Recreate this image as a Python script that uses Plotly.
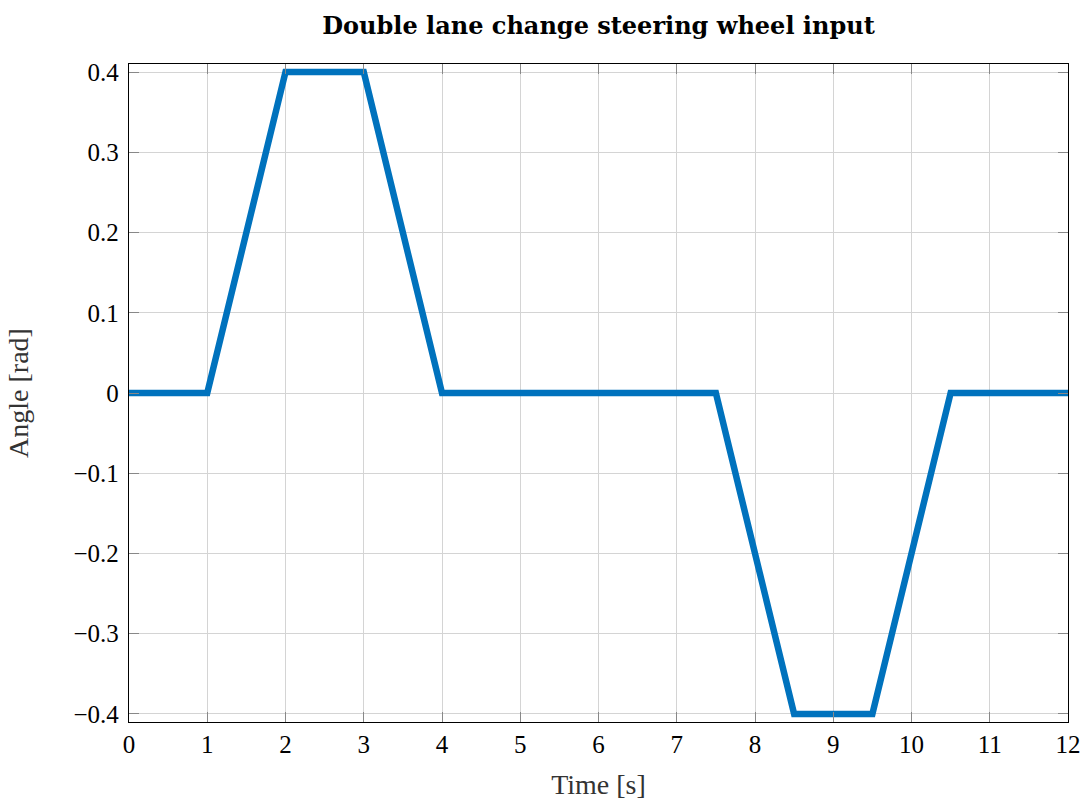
import plotly.graph_objects as go

time_s = [0, 1, 2, 3, 4, 7.5, 8.5, 9.5, 10.5, 12]
angle_rad = [0, 0, 0.4, 0.4, 0, 0, -0.4, -0.4, 0, 0]
x_ticks = list(range(0, 13))
y_ticks = [-0.4, -0.3, -0.2, -0.1, 0, 0.1, 0.2, 0.3, 0.4]
y_labels = ["\u22120.4", "\u22120.3", "\u22120.2", "\u22120.1", "0", "0.1", "0.2", "0.3", "0.4"]

FONT = "Liberation Serif"

fig = go.Figure()
fig.add_trace(go.Scatter(x=time_s, y=angle_rad, mode="lines",
                         line=dict(color="#0072BD", width=6.5), showlegend=False))

axis_common = dict(showline=True, linecolor="black", linewidth=1.3, mirror="ticks",
                   ticks="inside", ticklen=10, tickcolor="#888888", tickwidth=1.2,
                   showgrid=True, gridcolor="#d4d4d4", gridwidth=1, zeroline=False,
                   automargin=False,
                   tickfont=dict(family=FONT, size=25, color="black"))

fig.update_layout(
    width=1087, height=800,
    margin=dict(l=129, r=19, t=64, b=78),
    paper_bgcolor="white", plot_bgcolor="white",
    title=dict(text="<b>Double lane change steering wheel input</b>",
               x=(129 + 1068) / 2 / 1087, xanchor="center", y=1 - 26 / 800, yanchor="middle",
               font=dict(family="DejaVu Serif", size=24, color="black")),
    xaxis=dict(range=[0, 12], tickvals=x_ticks, ticktext=[str(v) for v in x_ticks],
               title=dict(text="Time [s]", font=dict(family=FONT, size=28, color="#333333"), standoff=19),
               **axis_common),
    yaxis=dict(range=[-0.41, 0.41], tickvals=y_ticks, ticktext=y_labels, ticklabelstandoff=4,
               title=dict(text="Angle [rad]", font=dict(family=FONT, size=28, color="#333333"), standoff=36),
               **axis_common),
)

fig.write_html("out.html")
